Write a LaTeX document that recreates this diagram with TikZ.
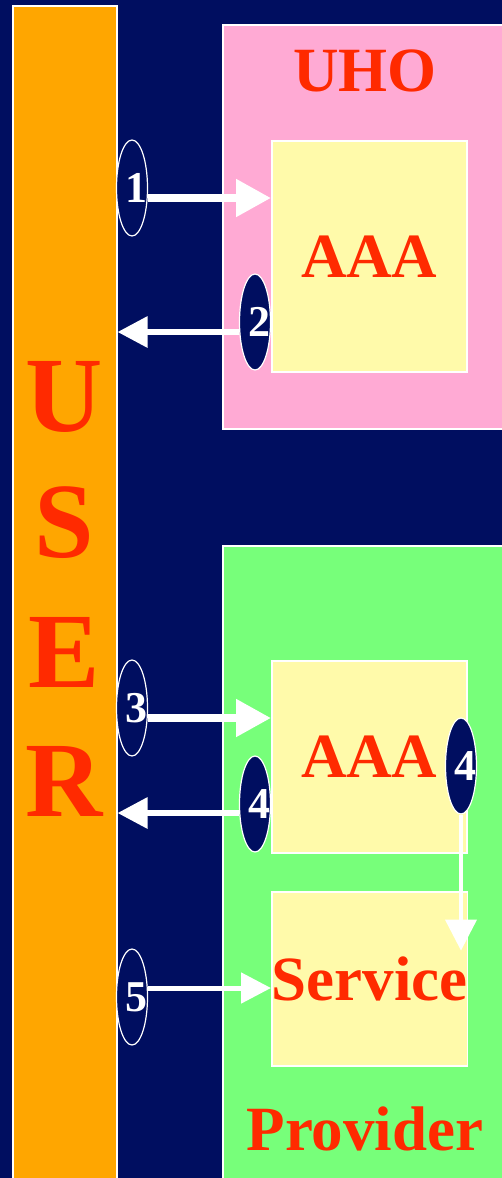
\documentclass[tikz,border=0pt]{standalone}
\usepackage{fontspec}
\setmainfont{Liberation Serif}
\usetikzlibrary{arrows.meta, shapes.geometric}

\definecolor{navy}{RGB}{0,14,96}
\definecolor{userorange}{RGB}{255,166,0}
\definecolor{uhopink}{RGB}{255,170,212}
\definecolor{provgreen}{RGB}{119,255,122}
\definecolor{boxyellow}{RGB}{255,250,170}
\definecolor{labelred}{RGB}{255,42,0}

% digit sits a little right of the oval's centre
\newcommand{\stepnum}[1]{\makebox[0pt]{\hspace{8pt}#1}}

\tikzset{
    panel/.style={draw=white, line width=1.5pt, anchor=north west, inner sep=0pt},
    innerbox/.style={panel, fill=boxyellow, text=labelred,
        font=\fontsize{63}{63}\selectfont\bfseries},
    bigword/.style={text=labelred, font=\fontsize{63}{63}\selectfont\bfseries},
    userletter/.style={text=labelred, font=\fontsize{107}{107}\selectfont\bfseries},
    stepoval/.style={ellipse, draw=white, line width=1.2pt, fill=navy, text=white,
        inner sep=0pt, minimum width=31pt, minimum height=96pt,
        font=\fontsize{44}{44}\selectfont\bfseries},
    fatarrow/.style={white, line width=8pt, -{Triangle[length=35pt,width=36pt]}},
    backarrow/.style={white, line width=6pt, -{Triangle[length=30pt,width=30pt]}},
    thinarrow/.style={white, line width=5pt, -{Triangle[length=30pt,width=30pt]}},
    droparrow/.style={white, line width=4pt, -{Triangle[length=31pt,width=31pt]}}
}

\begin{document}
\begin{tikzpicture}[x=1pt, y=-1pt]
    \useasboundingbox (0,0) rectangle (502,1178);
    \fill[navy] (0,0) rectangle (502,1178);

    % User column
    \node[panel, fill=userorange, minimum width=104pt, minimum height=1200pt] (user) at (12,5) {};
    \node[userletter] (u) at (64,397) {U};
    \node[userletter] (s) at (64,523) {S};
    \node[userletter] (e) at (64,652) {E};
    \node[userletter] (r) at (64,781) {R};

    % Home organisation
    \node[panel, fill=uhopink, minimum width=300pt, minimum height=404pt] (uho) at (222,24) {};
    \node[bigword] (uholabel) at (365,71) {UHO};
    \node[innerbox, minimum width=195pt, minimum height=231pt] (aaa1) at (271,140) {AAA};

    % Provider
    \node[panel, fill=provgreen, minimum width=300pt, minimum height=660pt] (prov) at (222,545) {};
    \node[bigword] (provlabel) at (365,1129) {Provider};
    \node[innerbox, minimum width=195pt, minimum height=192pt] (aaa2) at (271,660) {AAA};
    \node[innerbox, minimum width=195pt, minimum height=174pt] (srv) at (271,891) {Service};

    % Steps
    \node[stepoval] (n1) at (132,188) {\stepnum{1}};
    \node[stepoval] (n2) at (255,322) {\stepnum{2}};
    \node[stepoval] (n3) at (132,708) {\stepnum{3}};
    \node[stepoval] (n4a) at (255,804) {\stepnum{4}};
    \node[stepoval] (n4b) at (461,766) {\stepnum{4}};
    \node[stepoval] (n5) at (132,997) {\stepnum{5}};

    \coordinate (a1) at ([yshift=-10pt]n1.east);
    \coordinate (a2) at ([yshift=-10pt]n2.west);
    \coordinate (a3) at ([yshift=-10pt]n3.east);
    \coordinate (a4) at ([yshift=-9pt]n4a.west);
    \coordinate (a5) at ([yshift=9pt]n5.east);
    \coordinate (drop) at ([yshift=-136pt]n4b.south);

    \draw[fatarrow] (a1) -- (a1 -| aaa1.west);
    \draw[backarrow] (a2) -- (a2 -| user.east);
    \draw[fatarrow] (a3) -- (a3 -| aaa2.west);
    \draw[backarrow] (a4) -- (a4 -| user.east);
    \draw[droparrow] (n4b.south) -- (drop);
    \draw[thinarrow] (a5) -- (a5 -| srv.west);
\end{tikzpicture}
\end{document}
